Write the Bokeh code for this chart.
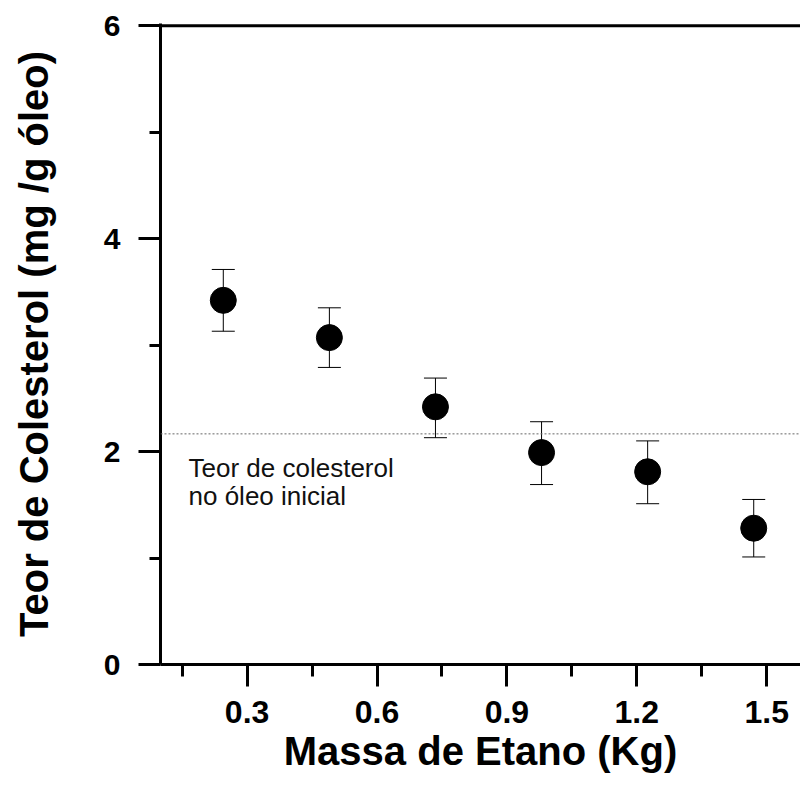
from bokeh.plotting import figure
from bokeh.models import (ColumnDataSource, Whisker, TeeHead, Span, FixedTicker,
                          Range1d, Label)
from bokeh.embed import file_html
from bokeh.resources import INLINE

# ---- data ----
massa = [0.245, 0.49, 0.735, 0.98, 1.225, 1.47]
teor = [3.42, 3.07, 2.42, 1.99, 1.81, 1.28]
teor_sup = [3.71, 3.35, 2.69, 2.28, 2.10, 1.55]
teor_inf = [3.13, 2.79, 2.13, 1.69, 1.51, 1.01]
teor_inicial = 2.166
x_ticks = [0.3, 0.6, 0.9, 1.2, 1.5]
x_minor = [0.15, 0.45, 0.75, 1.05, 1.35]
y_ticks = [0, 2, 4, 6]
y_minor = [1, 3, 5]

FONT = "Liberation Sans"

p = figure(width=800, height=787, output_backend="svg", toolbar_location=None,
           x_range=Range1d(0.1, 1.578), y_range=Range1d(0, 6.02),
           min_border_left=160, min_border_right=0, min_border_top=23,
           min_border_bottom=123)
p.grid.visible = False
p.outline_line_color = None
p.background_fill_color = "white"
p.border_fill_color = "white"

src = ColumnDataSource(dict(x=massa, y=teor, up=teor_sup, lo=teor_inf))

# reference line
p.add_layout(Span(location=teor_inicial, dimension="width", line_color="#666666",
                  line_width=1, line_dash="2 2"))

# top frame line
p.segment(x0=[0.1], y0=[6], x1=[1.578], y1=[6], line_color="black", line_width=3)

# error bars
w = Whisker(base="x", upper="up", lower="lo", source=src, line_color="black",
            line_width=1,
            upper_head=TeeHead(size=23, line_color="black", line_width=1),
            lower_head=TeeHead(size=23, line_color="black", line_width=1))
p.add_layout(w)

p.scatter("x", "y", source=src, size=26, fill_color="black", line_color="black")

p.add_layout(Label(x=0.1647, y=1.850, text="Teor de colesterol", text_font=FONT,
                   text_font_size="26px", text_baseline="alphabetic", text_color="#111111"))
p.add_layout(Label(x=0.1647, y=1.587, text="no óleo inicial", text_font=FONT,
                   text_font_size="26px", text_baseline="alphabetic", text_color="#111111"))

# axes
xa = p.xaxis[0]
xa.ticker = FixedTicker(ticks=x_ticks, minor_ticks=x_minor)
xa.axis_label = "Massa de Etano (Kg)"
ya = p.yaxis[0]
ya.ticker = FixedTicker(ticks=y_ticks, minor_ticks=y_minor)
ya.axis_label = "Teor de Colesterol (mg /g óleo)"

for ax in (xa, ya):
    ax.axis_line_width = 3
    ax.axis_line_color = "black"
    ax.major_tick_line_width = 3
    ax.minor_tick_line_width = 3
    ax.major_tick_line_color = "black"
    ax.minor_tick_line_color = "black"
    ax.major_tick_in = 0
    ax.minor_tick_in = 0
    ax.major_label_text_font = FONT
    ax.major_label_text_font_style = "bold"
    ax.major_label_text_color = "black"
    ax.axis_label_text_font = FONT
    ax.axis_label_text_font_style = "bold"
    ax.axis_label_text_font_size = "40px"
    ax.axis_label_text_color = "black"

xa.major_label_text_font_size = "32px"
ya.major_label_text_font_size = "30px"
xa.major_tick_out = 22
xa.minor_tick_out = 12
xa.major_label_standoff = 14
xa.axis_label_standoff = 3
ya.major_tick_out = 22
ya.minor_tick_out = 11
ya.major_label_standoff = 18
ya.axis_label_standoff = 45

open("out.html", "w").write(file_html(p, INLINE))
